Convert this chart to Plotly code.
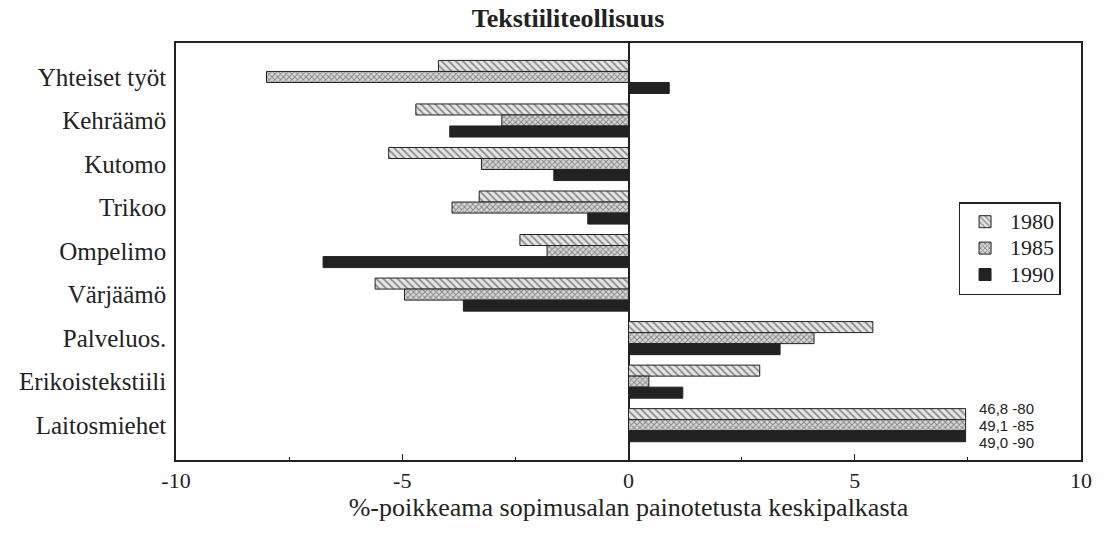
import plotly.graph_objects as go

categories = ["Yhteiset työt", "Kehräämö", "Kutomo", "Trikoo", "Ompelimo",
              "Värjäämö", "Palveluos.", "Erikoistekstiili", "Laitosmiehet"]
years = ["1980", "1985", "1990"]
v1980 = [-4.2, -4.7, -5.3, -3.3, -2.4, -5.6, 5.4, 2.9, 7.45]
v1985 = [-8.0, -2.8, -3.25, -3.9, -1.8, -4.95, 4.1, 0.45, 7.45]
v1990 = [0.9, -3.95, -1.65, -0.9, -6.75, -3.65, 3.35, 1.2, 7.45]
laitos_labels = ["46,8 -80", "49,1 -85", "49,0 -90"]
xticks = [-10, -5, 0, 5, 10]

serif = "Liberation Serif, Times New Roman, serif"

fig = go.Figure()
styles = [
    dict(color="#e6e6e6", pattern=dict(shape="\\", fgcolor="#333333", bgcolor="#e6e6e6", size=5, solidity=0.35)),
    dict(color="#d0d0d0", pattern=dict(shape="x", fgcolor="#333333", bgcolor="#d8d8d8", size=4, solidity=0.45)),
    dict(color="#222222"),
]
for name, vals, st in zip(years, [v1980, v1985, v1990], styles):
    fig.add_trace(go.Bar(
        y=categories, x=vals, name=f'<span style="font-size:22px">{name}</span>',
        orientation="h",
        marker=dict(line=dict(color="#222222", width=1), **st),
    ))

for lbl, shift in zip(laitos_labels, [17, 0, -17]):
    fig.add_annotation(x=7.45, y="Laitosmiehet", text=lbl, showarrow=False,
                       xanchor="left", xshift=11, yshift=shift,
                       font=dict(family="Liberation Sans, Arial, sans-serif", size=15, color="#222"))

fig.update_layout(
    width=1104, height=535,
    margin=dict(l=176, r=19, t=43, b=75),
    paper_bgcolor="white", plot_bgcolor="white",
    barmode="group", bargap=0.24, bargroupgap=0,
    title=dict(text="<b>Tekstiiliteollisuus</b>", x=568/1104, xanchor="center",
               xref="container", y=1 - 18/535, yanchor="middle",
               font=dict(family=serif, size=26, color="#222")),
    legend=dict(x=(962 - 176) / 909, y=(460 - 202) / 417, xanchor="left", yanchor="top",
                bordercolor="#222", borderwidth=1.5, bgcolor="white",
                font=dict(family=serif, size=18, color="#222"),
                itemwidth=40, tracegroupgap=0),
    showlegend=True,
)
fig.update_xaxes(range=[-10, 10], tickvals=xticks, ticktext=[str(t) for t in xticks],
                 ticks="inside", ticklen=6, tickcolor="#222",
                 minor=dict(dtick=2.5, tick0=0, ticks="inside", ticklen=3, tickcolor="#222"),
                 showline=True, mirror=True, linecolor="#222", linewidth=1.5,
                 showgrid=False, zeroline=True, zerolinecolor="#222", zerolinewidth=1.5,
                 tickfont=dict(family=serif, size=22, color="#222"),
                 title=dict(text="%-poikkeama sopimusalan painotetusta keskipalkasta",
                            font=dict(family=serif, size=26, color="#222"), standoff=4))
fig.update_yaxes(range=[8.8, -0.78], showline=True, mirror=True, linecolor="#222",
                 linewidth=1.5, showgrid=False, ticks="", ticklabelstandoff=3,
                 tickfont=dict(family=serif, size=25, color="#222"))

fig.write_html("out.html", config={"displayModeBar": False},
               post_script="document.body.style.margin='0';document.body.style.overflow='hidden';")
